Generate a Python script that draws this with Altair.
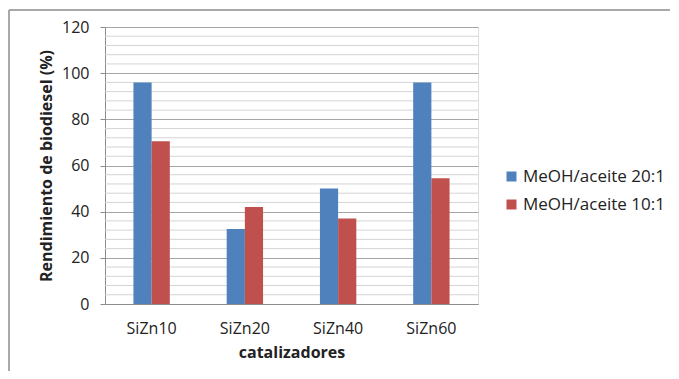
import altair as alt
import pandas as pd

categories = ["SiZn10", "SiZn20", "SiZn40", "SiZn60"]
series = ["MeOH/aceite 20:1", "MeOH/aceite 10:1"]
values_20 = [96, 32.5, 50, 96]
values_10 = [70.5, 42, 37, 54.5]
y_ticks = [0, 20, 40, 60, 80, 100, 120]
minor_ticks = [4, 8, 12, 16, 24, 28, 32, 36, 44, 48, 52, 56, 64, 68, 72, 76,
               84, 88, 92, 96, 104, 108, 112, 116]
colors = ["#4F81BD", "#C0504D"]

rows = []
for c, a, b in zip(categories, values_20, values_10):
    rows.append({"cat": c, "serie": series[0], "val": a})
    rows.append({"cat": c, "serie": series[1], "val": b})
df = pd.DataFrame(rows)
minor = pd.DataFrame({"val": minor_ticks})

W, H = 373, 277
FONT = "Open Sans"
TXT = "#222222"
yscale = alt.Scale(domain=[0, 120], nice=False, zero=True)

y_axis = alt.Axis(values=y_ticks, title="Rendimiento de biodiesel (%)",
                  labelFontSize=16, labelFont=FONT, labelColor=TXT,
                  labelPadding=11, tickSize=5, tickColor="#8c8c8c",
                  domainColor="#8c8c8c", gridColor="#a6a6a6",
                  titleFontSize=16, titleFont=FONT, titleFontWeight="bold",
                  titleColor=TXT, titlePadding=7)

minor_rules = alt.Chart(minor).mark_rule(color="#d4d4d4", strokeWidth=1).encode(
    y=alt.Y("val:Q", scale=yscale, axis=y_axis)
)

bars = alt.Chart(df).mark_bar().encode(
    x=alt.X("cat:N", sort=categories,
            scale=alt.Scale(paddingInner=0.61, paddingOuter=0.305),
            axis=alt.Axis(title="catalizadores", labelAngle=0, ticks=False,
                          labelFontSize=16, labelFont=FONT, labelColor=TXT,
                          labelPadding=16, titleFontSize=16, titleFont=FONT,
                          titleFontWeight="bold", titleColor=TXT, titlePadding=8,
                          domainColor="#8c8c8c", grid=False)),
    xOffset=alt.XOffset("serie:N", sort=series,
                        scale=alt.Scale(paddingInner=0, paddingOuter=0)),
    y=alt.Y("val:Q", scale=yscale, axis=y_axis),
    color=alt.Color("serie:N", sort=series,
                    scale=alt.Scale(domain=series, range=colors),
                    legend=alt.Legend(title=None, orient="none", legendX=398, legendY=141,
                                      symbolType="square", symbolSize=100,
                                      symbolStrokeWidth=0, labelOffset=3,
                                      labelFontSize=17, labelFont=FONT,
                                      labelColor=TXT, rowPadding=10)),
)

frame_data = pd.DataFrame({"a": [0]})
frame_left = alt.Chart(frame_data).mark_rule(color="#8c8c8c", strokeWidth=1.5).encode(
    x=alt.value(-96), y=alt.value(-17), y2=alt.value(400))
frame_top = alt.Chart(frame_data).mark_rule(color="#8c8c8c", strokeWidth=1.5).encode(
    x=alt.value(-96), x2=alt.value(600), y=alt.value(-17))

chart = alt.layer(minor_rules, bars, frame_left, frame_top).properties(
    width=W, height=H,
    padding={"left": 97, "top": 19, "right": 192, "bottom": 67},
    autosize=alt.AutoSizeParams(type="none"),
).configure_view(strokeWidth=0).configure(background="white")

chart.save("out.html", embed_options={"renderer": "svg", "actions": False})
